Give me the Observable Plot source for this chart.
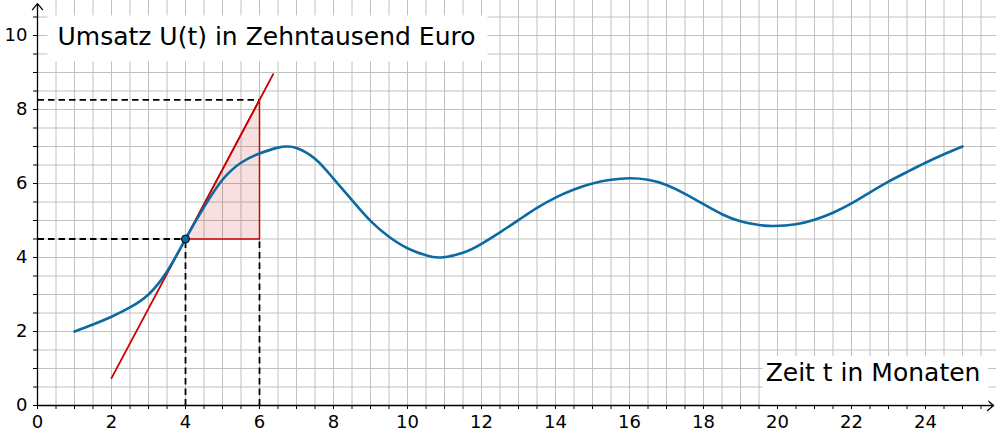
<!DOCTYPE html>
<html>
<head>
<meta charset="utf-8">
<script src="https://cdn.jsdelivr.net/npm/d3@7"></script>
<script src="https://cdn.jsdelivr.net/npm/@observablehq/plot@0.6"></script>
<style>
  html, body { margin: 0; padding: 0; background: #fff; }
</style>
</head>
<body>
<div id="chart"></div>
<script>
// ---- data ----
const months  = [1, 1.5, 2, 2.5, 3, 3.5, 4, 4.5, 5, 5.5, 6, 6.5, 6.75, 7, 7.5, 8, 8.5, 9, 9.5, 10, 10.5, 10.9, 11.5, 12, 12.5, 13, 13.5, 14, 14.5, 15, 15.5, 16, 16.5, 17, 17.5, 18, 18.5, 19, 19.5, 19.9, 20.5, 21, 21.5, 22, 22.5, 23, 23.5, 24, 24.5, 25];
const revenue = [2.0, 2.19, 2.4, 2.65, 3.0, 3.62, 4.5, 5.36, 6.1, 6.56, 6.81, 6.97, 7.0, 6.96, 6.67, 6.13, 5.55, 4.99, 4.56, 4.25, 4.06, 4.0, 4.13, 4.37, 4.68, 5.01, 5.34, 5.62, 5.84, 6.0, 6.1, 6.14, 6.1, 5.96, 5.72, 5.44, 5.17, 4.98, 4.88, 4.85, 4.9, 5.02, 5.21, 5.46, 5.76, 6.05, 6.31, 6.56, 6.79, 7.0];

const tangentT = 4;        // point of tangency (t)
const tangentU = 4.5;      // U(4)
const tangentSlope = 1.88; // slope of tangent
const tangentFrom = 2;     // tangent drawn from t = 2
const tangentTo = 6.37;    // ... to t = 6.37
const stepT = 6;           // slope triangle goes to t = 6

const xTickValues = d3.range(0, 25.51, 0.5);
const yTickValues = d3.range(0, 10.51, 0.5);
const xLabelValues = [0, 2, 4, 6, 8, 10, 12, 14, 16, 18, 20, 22, 24];
const yLabelValues = [0, 2, 4, 6, 8, 10];
const xGrid = d3.range(0.5, 25.51, 0.5);
const yGrid = d3.range(0.5, 10.51, 0.5);

const titleText = "Umsatz U(t) in Zehntausend Euro";
const xLabelText = "Zeit t in Monaten";

// ---- derived tables ----
const curve = months.map((t, i) => ({t, u: revenue[i]}));
const tangentAt = t => tangentU + tangentSlope * (t - tangentT);
const tangent = [tangentFrom, tangentTo].map(t => ({t, u: tangentAt(t)}));
const stepU = tangentAt(stepT);
const triangle = [
  {t: tangentT, u: tangentU},
  {t: stepT, u: tangentU},
  {t: stepT, u: stepU},
  {t: tangentT, u: tangentU}
];
const triFill = [
  {t: tangentT, lo: tangentU, hi: tangentU},
  {t: stepT, lo: tangentU, hi: stepU}
];
const dashes = [
  {x1: 0, y1: tangentU, x2: tangentT, y2: tangentU},
  {x1: tangentT, y1: 0, x2: tangentT, y2: tangentU},
  {x1: 0, y1: stepU, x2: stepT, y2: stepU},
  {x1: stepT, y1: 0, x2: stepT, y2: tangentU}
];
const axesArrows = [
  {x1: 0, y1: 0, x2: 25.84, y2: 0},
  {x1: 0, y1: 0, x2: 0, y2: 10.86}
];

const W = 996, H = 443;
const unit = 37;
const mL = 37, mR = 0, mT = 0, mB = 38;
const xMax = (W - mL - mR) / unit;
const yMax = (H - mT - mB) / unit;

const red = "#cc0000";
const blue = "#0a6aa1";
const gridColor = "#c0c0c0";

const plot = Plot.plot({
  width: W,
  height: H,
  marginLeft: mL, marginRight: mR, marginTop: mT, marginBottom: mB,
  x: {domain: [0, xMax]},
  y: {domain: [0, yMax]},
  style: {fontFamily: "'DejaVu Sans', sans-serif", fontSize: "18px", color: "#000", background: "#fff", overflow: "visible"},
  marks: [
    // grid
    Plot.ruleX(xGrid, {x: d => d, y1: 0, y2: yMax, stroke: gridColor, strokeWidth: 1}),
    Plot.ruleY(yGrid, {y: d => d, x1: 0, x2: xMax, stroke: gridColor, strokeWidth: 1}),
    // slope triangle
    Plot.areaY(triFill, {x: "t", y1: "lo", y2: "hi", fill: red, fillOpacity: 0.12}),
    Plot.line(triangle, {x: "t", y: "u", stroke: red, strokeWidth: 1.5}),
    // dashed helper lines
    Plot.link(dashes, {x1: "x1", y1: "y1", x2: "x2", y2: "y2", stroke: "#000", strokeWidth: 1.8, strokeDasharray: "6.5,4"}),
    // tangent
    Plot.line(tangent, {x: "t", y: "u", stroke: red, strokeWidth: 1.8}),
    // revenue curve
    Plot.line(curve, {x: "t", y: "u", stroke: blue, strokeWidth: 2.6, curve: "natural"}),
    // point of tangency
    Plot.dot([{t: tangentT, u: tangentU}], {x: "t", y: "u", r: 4, fill: blue, stroke: "#000", strokeWidth: 1}),
    // axes with arrows
    Plot.arrow(axesArrows, {x1: "x1", y1: "y1", x2: "x2", y2: "y2", stroke: "#000", strokeWidth: 1.3, headAngle: 80, headLength: 9}),
    Plot.axisX({ticks: xTickValues, tickSize: 4, tickPadding: 6, tickFormat: d => xLabelValues.includes(d) ? String(d) : "", label: null, stroke: "#000"}),
    Plot.axisY({ticks: yTickValues, tickSize: 4, tickPadding: 6, tickFormat: d => yLabelValues.includes(d) ? String(d) : "", label: null, stroke: "#000"}),
    // labels
    Plot.text([titleText], {x: 0.54, y: 9.95, text: d => d, textAnchor: "start", fontSize: 25, fill: "#000"}),
    Plot.text([xLabelText], {x: 19.68, y: 0.87, text: d => d, textAnchor: "start", fontSize: 25, fill: "#000"})
  ]
});

document.getElementById("chart").appendChild(plot);

// white background boxes behind the two labels (measured from the rendered text)
const pads = {
  [titleText]: {l: 10, r: 12, t: 7, b: 10},
  [xLabelText]: {l: 3, r: 8, t: 2, b: 17}
};
plot.querySelectorAll("text").forEach(el => {
  const p = pads[el.textContent];
  if (!p) return;
  const bb = el.getBBox();
  const rect = document.createElementNS("http://www.w3.org/2000/svg", "rect");
  rect.setAttribute("x", bb.x - p.l);
  rect.setAttribute("y", bb.y - p.t);
  rect.setAttribute("width", bb.width + p.l + p.r);
  rect.setAttribute("height", bb.height + p.t + p.b);
  rect.setAttribute("fill", "#fff");
  rect.setAttribute("stroke", "none");
  const tr = el.getAttribute("transform");
  if (tr) rect.setAttribute("transform", tr);
  el.parentNode.insertBefore(rect, el);
});
</script>
</body>
</html>
